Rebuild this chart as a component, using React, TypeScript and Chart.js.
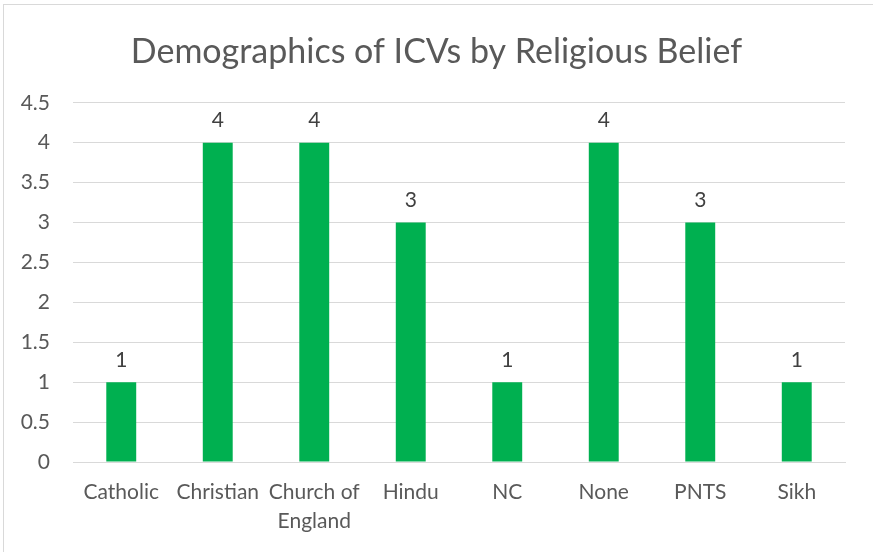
import React, { useEffect, useRef } from "react";
import { Chart, registerables } from "chart.js";

Chart.register(...registerables);

const categories: (string | string[])[] = [
  "Catholic",
  "Christian",
  ["Church of", "England"],
  "Hindu",
  "NC",
  "None",
  "PNTS",
  "Sikh",
];
const counts: number[] = [1, 4, 4, 3, 1, 4, 3, 1];
const yMax = 4.5;
const yStep = 0.5;
const titleText = "Demographics of ICVs by Religious Belief";

const FONT = "Lato, 'Open Sans', sans-serif";

const valueLabels = {
  id: "valueLabels",
  afterDatasetsDraw(chart: any) {
    const ctx = chart.ctx;
    const meta = chart.getDatasetMeta(0);
    ctx.save();
    ctx.font = `21px ${FONT}`;
    ctx.fillStyle = "#404040";
    ctx.textAlign = "center";
    ctx.textBaseline = "middle";
    meta.data.forEach((bar: any, i: number) => {
      ctx.fillText(String(counts[i]), bar.x, bar.y - 22);
    });
    ctx.restore();
  },
};

export default function App() {
  const ref = useRef<HTMLCanvasElement | null>(null);

  useEffect(() => {
    document.body.style.margin = "0";
    document.documentElement.style.overflow = "hidden";
    const chart = new Chart(ref.current as HTMLCanvasElement, {
      type: "bar",
      data: {
        labels: categories as any,
        datasets: [
          {
            data: counts,
            backgroundColor: "#00B050",
            borderWidth: 0,
            categoryPercentage: 1,
            barPercentage: 0.31,
          },
        ],
      },
      options: {
        animation: false,
        responsive: false,
        maintainAspectRatio: false,
        layout: { padding: 0 },
        plugins: {
          legend: { display: false },
          tooltip: { enabled: false },
          title: {
            display: true,
            text: titleText,
            color: "#595959",
            font: { family: FONT, size: 34, weight: "normal" as any, lineHeight: 1.2 },
            padding: { top: 32, bottom: 30 },
          } as any,
        },
        scales: {
          x: {
            grid: { display: false, drawTicks: false },
            border: { display: true, color: "#d9d9d9", width: 1 },
            ticks: {
              color: "#595959",
              font: { family: FONT, size: 21, lineHeight: 1.38 },
              padding: 16,
              maxRotation: 0,
              autoSkip: false,
            },
            afterFit: (s: any) => {
              s.height = 90;
            },
          },
          y: {
            min: 0,
            max: yMax,
            grid: { color: "#d9d9d9", drawTicks: false, lineWidth: 1 },
            border: { display: false },
            ticks: {
              stepSize: yStep,
              color: "#595959",
              font: { family: FONT, size: 21 },
              padding: 23,
              callback: (v: any) => String(Number(v)),
            },
            afterFit: (s: any) => {
              s.width = 73;
            },
          },
          yRight: {
            position: "right",
            display: true,
            min: 0,
            max: yMax,
            grid: { display: false, drawTicks: false },
            border: { display: false },
            ticks: { display: false },
            afterFit: (s: any) => {
              s.width = 28;
            },
          },
        },
      },
      plugins: [valueLabels],
    });
    return () => chart.destroy();
  }, []);

  return (
    <div style={{ position: "relative", width: 873, height: 552, background: "#fff", overflow: "hidden" }}>
      <canvas ref={ref} width={873} height={552} style={{ position: "absolute", left: 0, top: 0 }} />
      <div
        style={{
          position: "absolute",
          left: 3,
          top: 4,
          width: 900,
          height: 600,
          borderTop: "1px solid #d9d9d9",
          borderLeft: "1px solid #d9d9d9",
          pointerEvents: "none",
        }}
      />
    </div>
  );
}
